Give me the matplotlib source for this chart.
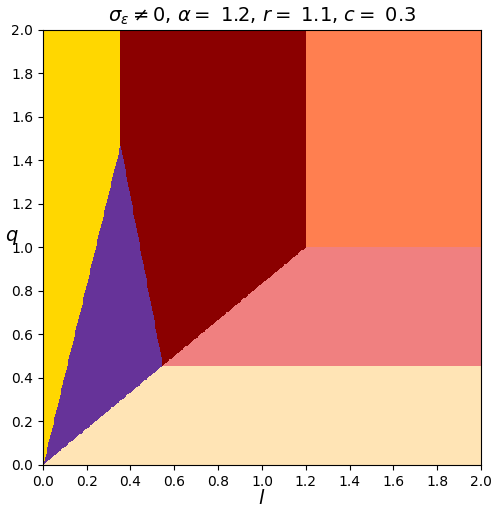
import numpy as np
import matplotlib.pyplot as plt
from matplotlib.colors import ListedColormap

# Parameters shown in the title.
alpha = 1.2
r = 1.1
c = 0.3

# Region boundaries (l, q).
apex = (0.352, 1.47)     # top of the purple triangle
low = (0.545, 0.455)     # bottom-right corner of the purple triangle
knee = (1.2, 1.0)        # corner between the light coral and coral regions

# Region order and colours.
regions = ['yellow', 'purple', 'darkred', 'coral', 'lightcoral', 'moccasin']
colors = ['#FFD700', '#663399', '#8B0000', '#FF7F50', '#F08080', '#FFE4B5']

# Grid over the (l, q) plane.
n = 500
l = np.linspace(0, 2, n)
q = np.linspace(0, 2, n)
L, Q = np.meshgrid(l, q)

s_left = apex[1] / apex[0]
s_low = low[1] / low[0]
l_dr = np.where(Q >= apex[1], apex[0],
                apex[0] + (apex[1] - Q) * (low[0] - apex[0]) / (apex[1] - low[1]))
q_mid = np.minimum(knee[1], low[1] + (L - low[0]) * (knee[1] - low[1]) / (knee[0] - low[0]))

Z = np.full(L.shape, 2)  # dark red by default
Z[(L < l_dr) & (Q <= apex[1])] = 1
Z[(Q > s_left * L) & (L < apex[0])] = 0
Z[(L >= knee[0]) & (Q >= knee[1])] = 3
Z[(L > low[0]) & (Q < q_mid)] = 4
Z[Q < np.minimum(low[1], s_low * L)] = 5

fig = plt.figure(figsize=(4.98, 5.13), dpi=100)
ax = fig.add_axes([0.086, 0.094, 0.88, 0.848])
ax.imshow(Z, origin='lower', extent=[0, 2, 0, 2], aspect='auto',
          cmap=ListedColormap(colors), vmin=-0.5, vmax=5.5, interpolation='nearest')
ax.set_xlim(0, 2)
ax.set_ylim(0, 2)
ax.set_xticks(np.arange(0, 2.01, 0.2))
ax.set_yticks(np.arange(0, 2.01, 0.2))
ax.set_xlabel(r'$l$', fontsize=14, labelpad=0)
ax.set_ylabel(r'$q$', fontsize=14, rotation=0, labelpad=2)
ax.yaxis.set_label_coords(-0.07, 0.5)
ax.set_title(r'$\sigma_\varepsilon \neq 0$, $\alpha = $ %s, $r = $ %s, $c = $ %s' % (alpha, r, c),
             fontsize=14)

fig.savefig('out.png', dpi=100)
